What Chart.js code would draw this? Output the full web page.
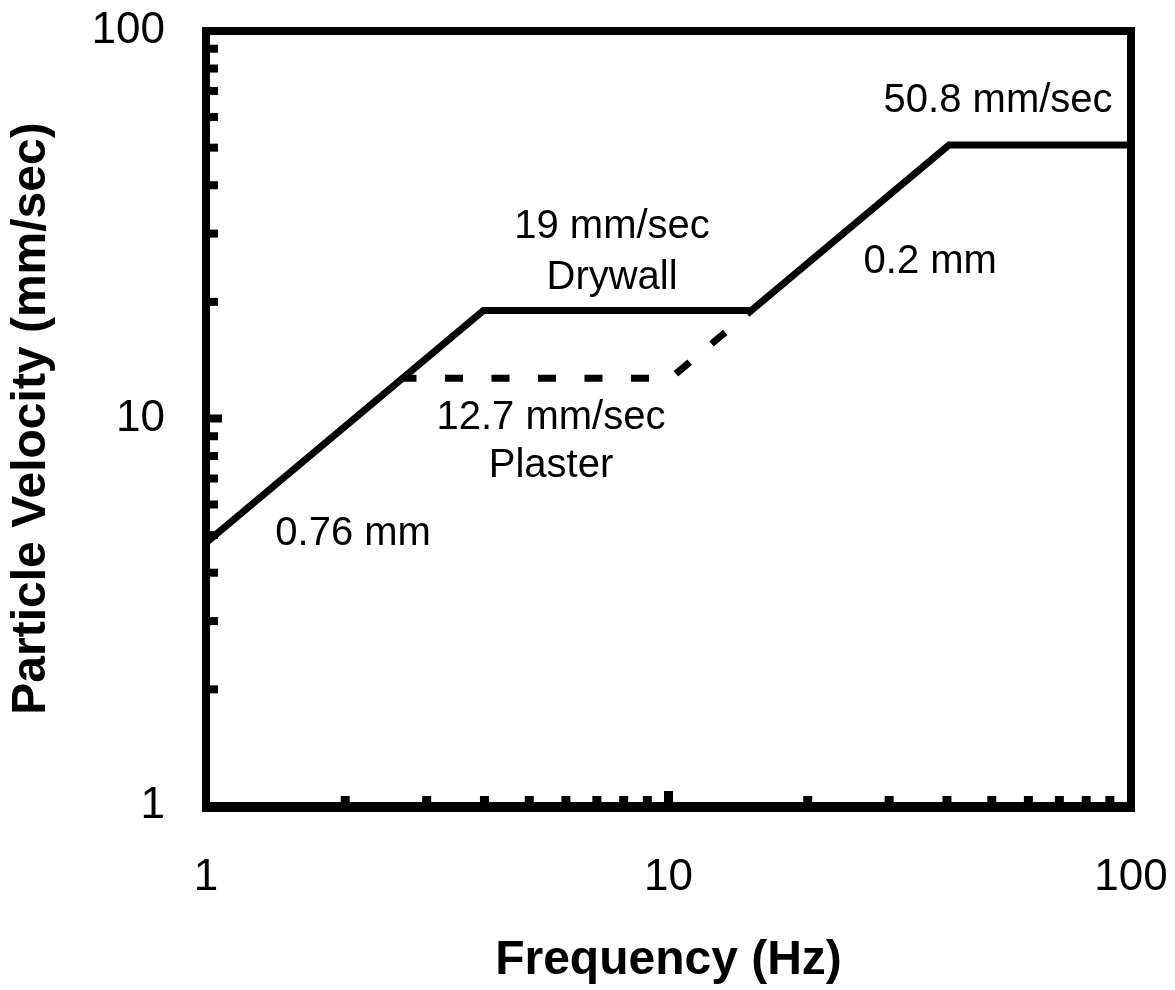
<!DOCTYPE html>
<html>
<head>
<meta charset="utf-8">
<script src="https://cdn.jsdelivr.net/npm/chart.js@4"></script>
<style>
  body { margin: 0; background: #fff; }
  canvas { display: block; }
</style>
</head>
<body>
<canvas id="graph" width="1175" height="990"></canvas>
<script>
// solid criterion line (0.76 mm -> 19 mm/sec drywall -> 0.2 mm -> 50.8 mm/sec)
const drywallFreq = [1, 3.98, 15.1, 40.4, 100];
const drywallVel = [4.78, 19, 19, 50.8, 50.8];

// dashed plaster branch (12.7 mm/sec)
const plasterFreq = [2.66, 10.1, 15.1];
const plasterVel = [12.7, 12.7, 19];

const majorTicks = [1, 10, 100];
const minorTicks = [2, 3, 4, 5, 6, 7, 8, 9, 20, 30, 40, 50, 60, 70, 80, 90];

const noteText = ['50.8 mm/sec', '19 mm/sec', 'Drywall', '0.2 mm', '12.7 mm/sec', 'Plaster', '0.76 mm'];
const noteFreq = [51.6, 7.55, 7.55, 36.8, 5.57, 5.57, 2.08];
const noteVel = [61.7, 29.3, 21.6, 23.7, 9.42, 7.07, 4.72];

const FONT = '"Liberation Sans", Arial, sans-serif';

function toPoints(xs, ys) {
  return xs.map((x, i) => ({ x: x, y: ys[i] }));
}

const framePlugin = {
  id: 'frame',
  afterDatasetsDraw(chart) {
    const ctx = chart.ctx;
    const a = chart.chartArea;
    const xs = chart.scales.x, ys = chart.scales.y;
    ctx.save();
    ctx.fillStyle = '#000';

    // inner ticks on bottom and left axes
    minorTicks.forEach(v => {
      const px = xs.getPixelForValue(v);
      ctx.fillRect(px - 4.5, a.bottom - 10, 9, 10);
      const py = ys.getPixelForValue(v);
      ctx.fillRect(a.left, py - 4, 12, 8);
    });
    const px10 = xs.getPixelForValue(10);
    ctx.fillRect(px10 - 4.5, a.bottom - 15, 9, 15);
    const py10 = ys.getPixelForValue(10);
    ctx.fillRect(a.left, py10 - 4, 16, 8);

    // box
    ctx.strokeStyle = '#000';
    ctx.lineWidth = 8;
    ctx.lineCap = 'square';
    ctx.strokeRect(a.left, a.top, a.right - a.left, a.bottom - a.top);
    ctx.fillRect(a.left - 4, a.bottom, a.right - a.left + 8, 6);

    // annotations
    ctx.font = '40px ' + FONT;
    ctx.textAlign = 'center';
    ctx.textBaseline = 'alphabetic';
    noteText.forEach((t, i) => {
      ctx.fillText(t, xs.getPixelForValue(noteFreq[i]), ys.getPixelForValue(noteVel[i]));
    });
    ctx.restore();
  }
};

new Chart(document.getElementById('graph'), {
  type: 'scatter',
  data: {
    datasets: [{
      label: 'Drywall',
      data: toPoints(drywallFreq, drywallVel),
      showLine: true,
      borderColor: '#000',
      borderWidth: 7,
      pointRadius: 0,
      borderJoinStyle: 'miter'
    }, {
      label: 'Plaster',
      data: toPoints(plasterFreq, plasterVel),
      showLine: true,
      borderColor: '#000',
      borderWidth: 7,
      borderDash: [18, 28.5],
      borderDashOffset: 4,
      borderCapStyle: 'butt',
      pointRadius: 0
    }]
  },
  options: {
    responsive: false,
    animation: false,
    devicePixelRatio: 1,
    layout: { padding: { top: 31, right: 44, left: 0, bottom: 0 } },
    plugins: { legend: { display: false }, tooltip: { enabled: false } },
    scales: {
      x: {
        type: 'logarithmic',
        min: 1,
        max: 100,
        grid: { display: false, drawTicks: false },
        border: { display: false },
        afterBuildTicks: s => { s.ticks = majorTicks.map(v => ({ value: v })); },
        afterFit: s => {
          s.height = 184;
          s.paddingLeft = 0;
          s.paddingRight = 0;
        },
        ticks: {
          color: '#000',
          padding: 45,
          maxRotation: 0,
          font: { family: FONT, size: 44 },
          callback: v => String(v)
        },
        title: {
          display: true,
          text: 'Frequency (Hz)',
          color: '#000',
          padding: 0,
          font: { family: FONT, size: 48, weight: 'bold' }
        }
      },
      y: {
        type: 'logarithmic',
        min: 1,
        max: 100,
        grid: { display: false, drawTicks: false },
        border: { display: false },
        afterBuildTicks: s => { s.ticks = majorTicks.map(v => ({ value: v })); },
        afterFit: s => {
          s.width = 206;
          s.paddingTop = 0;
          s.paddingBottom = 0;
        },
        ticks: {
          color: '#000',
          padding: 41,
          font: { family: FONT, size: 44 },
          callback: v => String(v)
        },
        title: {
          display: true,
          text: 'Particle Velocity (mm/sec)',
          color: '#000',
          padding: { top: 3, bottom: 0 },
          font: { family: FONT, size: 48, weight: 'bold' }
        }
      }
    }
  },
  plugins: [framePlugin]
});
</script>
</body>
</html>
